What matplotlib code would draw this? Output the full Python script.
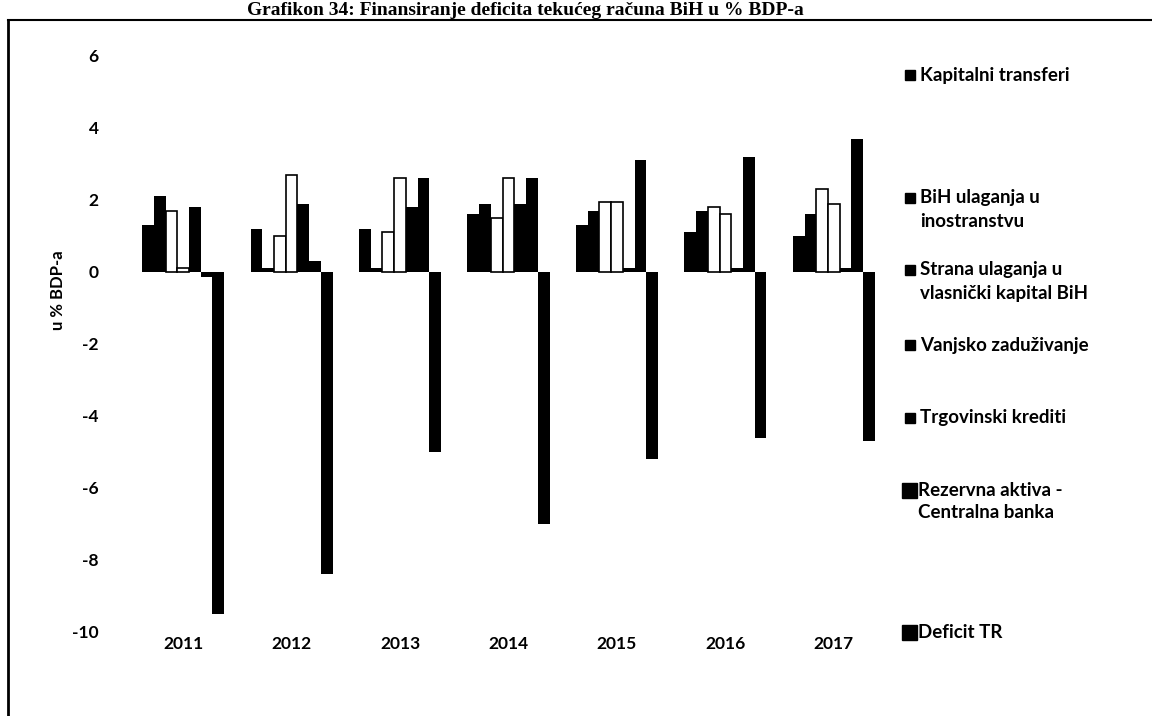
import matplotlib.pyplot as plt
import numpy as np
from matplotlib.patches import Rectangle
from matplotlib.lines import Line2D

# Data (u % BDP-a)
years = ['2011', '2012', '2013', '2014', '2015', '2016', '2017']
kapitalni = [1.3, 1.2, 1.2, 1.6, 1.3, 1.1, 1.0]
bih_ulaganja = [2.1, 0.1, 0.1, 1.9, 1.7, 1.7, 1.6]
strana_ulaganja = [1.7, 1.0, 1.1, 1.5, 1.95, 1.8, 2.3]
vanjsko = [0.1, 2.7, 2.6, 2.6, 1.95, 1.6, 1.9]
trgovinski = [1.8, 1.9, 1.8, 1.9, 0.1, 0.1, 0.1]
rezervna = [-0.15, 0.3, 2.6, 2.6, 3.1, 3.2, 3.7]
deficit = [-9.5, -8.4, -5.0, -7.0, -5.2, -4.6, -4.7]

labels = ['Kapitalni transferi', 'BiH ulaganja u\ninostranstvu',
          'Strana ulaganja u\nvlasnički kapital BiH', 'Vanjsko zaduživanje',
          'Trgovinski krediti', 'Rezervna aktiva -\nCentralna banka', 'Deficit TR']
series = [kapitalni, bih_ulaganja, strana_ulaganja, vanjsko, trgovinski, rezervna, deficit]
fills = ['black', 'black', 'white', 'white', 'black', 'black', 'black']

FONT = 'Lato'
W, H = 1152, 716

fig = plt.figure(figsize=(W / 100, H / 100), dpi=100)
ax = fig.add_axes([118 / W, 84 / H, 781 / W, 576 / H])

x = np.arange(len(years))
bw = 0.108
for k, (vals, fc) in enumerate(zip(series, fills)):
    ax.bar(x + (k - 3) * bw, vals, bw, color=fc, edgecolor='black',
           linewidth=1.2 if fc == 'white' else 0)

ax.set_xlim(-0.6, 6.6)
ax.set_ylim(-10, 6)
ax.set_yticks(range(-10, 7, 2))
ax.set_yticklabels([str(v) for v in range(-10, 7, 2)], fontsize=12.5,
                   fontweight='bold', family=FONT)
ax.set_xticks(x)
ax.set_xticklabels(years, fontsize=12.5, fontweight='bold', family=FONT)
ax.tick_params(axis='y', length=0, pad=14)
ax.tick_params(axis='x', length=0, pad=3)
for s in ax.spines.values():
    s.set_visible(False)

fig.text(58 / W, 1 - 290 / H, 'u % BDP-a', rotation=90, ha='center', va='center',
         fontsize=12, fontweight='bold', family=FONT)

# legend drawn by hand (irregular spacing in the original), marker beside first line
leg_y = [75, 198, 270, 345, 418, 490, 632]
for i, (lab, yy) in enumerate(zip(labels, leg_y)):
    big = i >= 5
    sz = 15 if big else 10
    fig.add_artist(Rectangle(((902 if big else 905) / W, 1 - (yy + sz / 2) / H),
                             sz / W, sz / H, color='black'))
    for j, line in enumerate(lab.split('\n')):
        fig.text((918 if big else 920) / W, 1 - (yy + j * 23) / H, line,
                 ha='left', va='center', fontsize=13.5, fontweight='bold',
                 family=FONT)

# page frame and title from the scan
fig.add_artist(Line2D([8 / W, 8 / W], [0, 1 - 20 / H], color='black', lw=2))
fig.add_artist(Line2D([8 / W, 1], [1 - 20 / H, 1 - 20 / H], color='black', lw=1.5))
fig.text(525 / W, 1 - 15 / H, 'Grafikon 34: Finansiranje deficita tekućeg računa BiH u % BDP-a',
         ha='center', va='baseline', fontsize=14, fontweight='bold',
         family='Liberation Serif')

fig.savefig('out.png', dpi=100)
